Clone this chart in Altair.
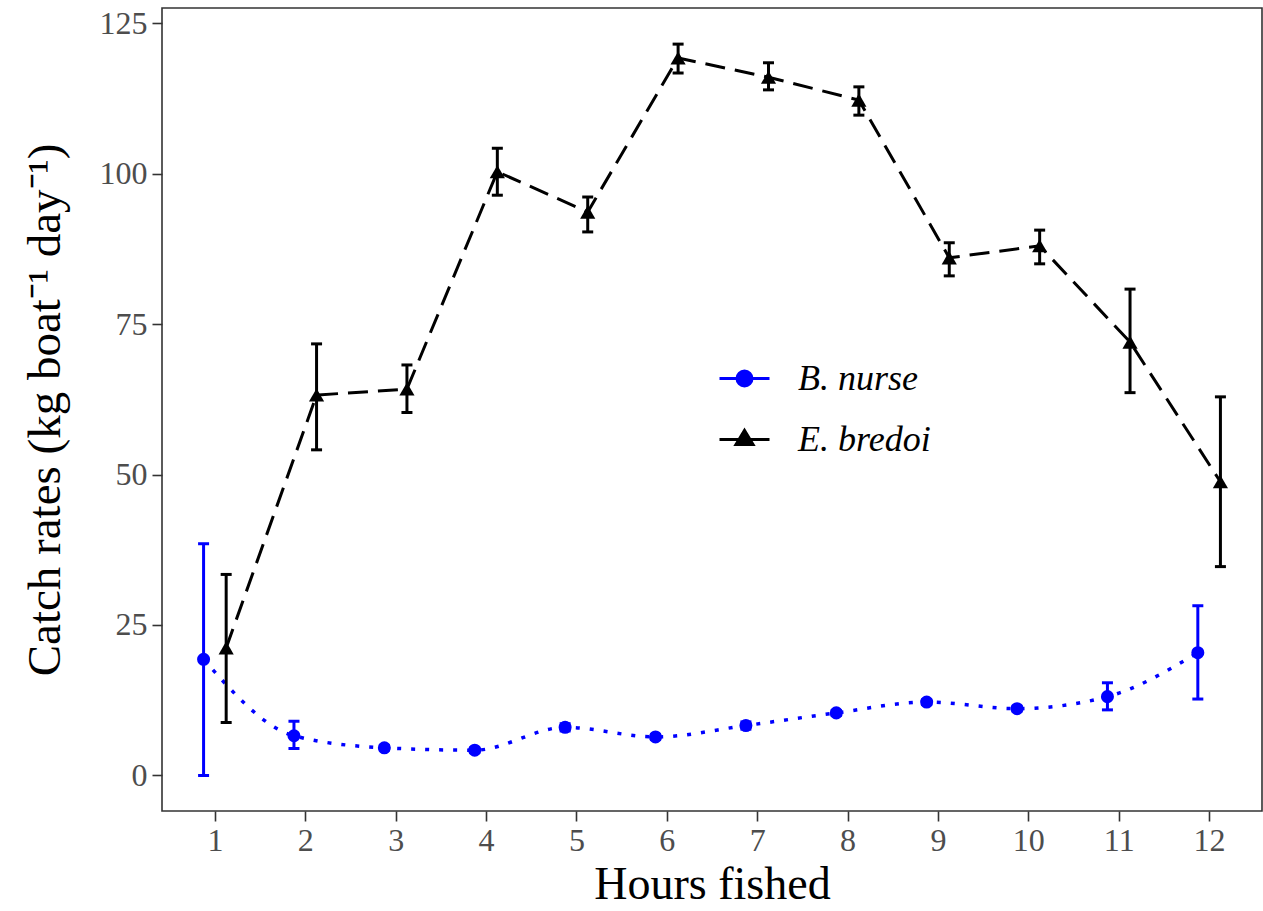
import altair as alt
import pandas as pd

hours = [1, 2, 3, 4, 5, 6, 7, 8, 9, 10, 11, 12]

nurse_mean = [19.3, 6.6, 4.6, 4.2, 8.0, 6.4, 8.3, 10.4, 12.2, 11.1, 13.1, 20.4]
nurse_lo = [0.0, 4.5, 4.2, 3.8, 7.4, 6.0, 7.7, 10.0, 11.8, 10.7, 10.9, 12.7]
nurse_hi = [38.5, 9.0, 5.0, 4.6, 8.6, 6.8, 8.9, 10.8, 12.6, 11.5, 15.4, 28.2]

bredoi_mean = [21.2, 63.2, 64.2, 100.3, 93.6, 119.2, 116.0, 112.2, 86.0, 88.0, 72.0, 48.8]
bredoi_lo = [8.8, 54.1, 60.3, 96.4, 90.3, 116.7, 113.9, 109.7, 83.0, 85.0, 63.6, 34.7]
bredoi_hi = [33.4, 71.7, 68.2, 104.2, 96.1, 121.5, 118.4, 114.4, 88.5, 90.6, 80.8, 62.9]

species = ["B. nurse", "E. bredoi"]
colors = ["#0000ff", "#000000"]

rows = []
for h, m, lo, hi in zip(hours, nurse_mean, nurse_lo, nurse_hi):
    rows.append({"hour": h, "species": species[0], "mean": m, "lo": lo, "hi": hi})
for h, m, lo, hi in zip(hours, bredoi_mean, bredoi_lo, bredoi_hi):
    rows.append({"hour": h, "species": species[1], "mean": m, "lo": lo, "hi": hi})
df = pd.DataFrame(rows)

FONT = "Liberation Serif"

xscale = alt.Scale(domain=[0.415, 12.585], nice=False, zero=False)
yscale = alt.Scale(domain=[-5.9, 127.5], nice=False, zero=False)
cscale = alt.Scale(domain=species, range=colors)

xaxis = alt.Axis(values=hours, title="Hours fished", grid=False, domain=False,
                 tickColor="#333333", tickWidth=1.6, tickSize=10,
                 labelFont=FONT, labelFontSize=32, labelColor="#4d4d4d",
                 labelPadding=4, titleFont=FONT, titleFontSize=46,
                 titleFontWeight="normal", titleColor="#000000", titlePadding=6)
yaxis = alt.Axis(values=[0, 25, 50, 75, 100, 125],
                 title="Catch rates  (kg boat⁻¹ day⁻¹)", grid=False, domain=False,
                 tickColor="#333333", tickWidth=1.6, tickSize=10,
                 labelFont=FONT, labelFontSize=32, labelColor="#4d4d4d",
                 labelPadding=5, titleFont=FONT, titleFontSize=47,
                 titleFontWeight="normal", titleColor="#000000", titlePadding=30)

base = alt.Chart(df).transform_calculate(
    xpos="datum.hour + (datum.species == 'B. nurse' ? -0.125 : 0.125)"
)

X = alt.X("xpos:Q", scale=xscale, axis=xaxis)
Y = alt.Y("mean:Q", scale=yscale, axis=yaxis)

layers = []
for sp, col in zip(species, colors):
    b = base.transform_filter(alt.datum.species == sp)
    if sp == "B. nurse":
        line = b.mark_line(color=col, strokeWidth=3.5, strokeDash=[4, 10], interpolate="monotone")
        pt = b.mark_point(color=col, filled=True, shape="circle", size=170, opacity=1)
    else:
        line = b.mark_line(color=col, strokeWidth=3, strokeDash=[20, 10])
        pt = b.mark_point(color=col, filled=True, shape="triangle-up", size=230, opacity=1)
    layers.append(line.encode(x=X, y=Y))
    layers.append(pt.encode(x=X, y=Y))
    layers.append(b.mark_rule(color=col, strokeWidth=3).encode(
        x=X, y=alt.Y("lo:Q", scale=yscale), y2="hi:Q"))
    layers.append(b.mark_tick(color=col, orient="horizontal", size=11, thickness=3, opacity=1).encode(
        x=X, y=alt.Y("lo:Q", scale=yscale)))
    layers.append(b.mark_tick(color=col, orient="horizontal", size=11, thickness=3, opacity=1).encode(
        x=X, y=alt.Y("hi:Q", scale=yscale)))

nurse_path = "M-1,0L1,0M-0.3,0A0.3,0.3,0,1,1,0.3,0A0.3,0.3,0,1,1,-0.3,0Z"
bredoi_path = "M-1,0L1,0M-0.34,0.2L0,-0.36L0.34,0.2Z"

legend = alt.Legend(title=None, orient="none", legendX=556, legendY=344,
                    labelFont=FONT, labelFontStyle="italic", labelFontSize=36,
                    labelColor="#000000", labelOffset=27, symbolSize=2500,
                    symbolStrokeWidth=3, symbolOpacity=1, rowPadding=16,
                    padding=0, labelLimit=400)

legend_layer = base.transform_filter("false").mark_point(filled=True, opacity=1).encode(
    x=X, y=Y,
    fill=alt.Fill("species:N", scale=cscale, legend=legend),
    stroke=alt.Stroke("species:N", scale=cscale, legend=legend),
    shape=alt.Shape("species:N", scale=alt.Scale(domain=species, range=[nurse_path, bredoi_path]),
                    legend=legend),
)

chart = alt.layer(*layers, legend_layer).properties(
    width=1100, height=803,
    background="white",
    autosize=alt.AutoSizeParams(type="none"),
    padding={"left": 162, "top": 8, "right": 1, "bottom": 100},
).configure_view(
    stroke="#333333", strokeWidth=1.6
)

chart.save("out.html", embed_options={"renderer": "svg", "actions": False})
